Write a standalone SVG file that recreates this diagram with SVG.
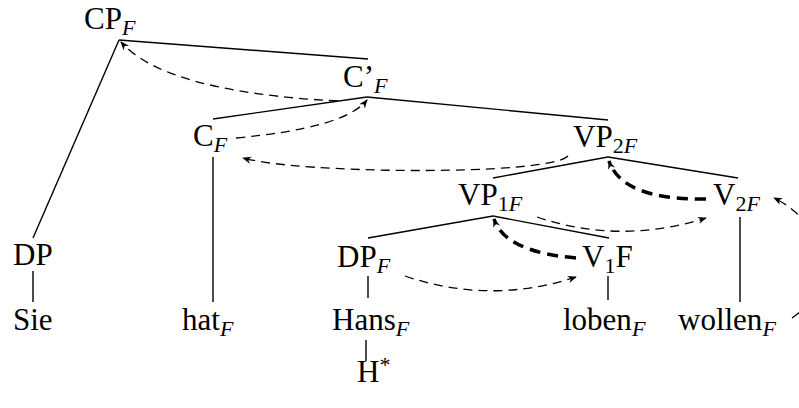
<svg xmlns="http://www.w3.org/2000/svg" width="799" height="408" viewBox="0 0 799 408">
<style>
text{font-family:"Liberation Serif","Times New Roman",serif;font-size:31px;fill:#000}
.s{font-size:22px}
.i{font-style:italic}
.e{stroke:#000;stroke-width:1.4;fill:none}
.d{stroke:#000;stroke-width:1.3;fill:none;stroke-dasharray:9 6}
.t{stroke:#000;stroke-width:3.5;fill:none;stroke-dasharray:11 7}
</style>
<defs>
<marker id="a" viewBox="0 0 10 10" refX="9" refY="5" markerWidth="9" markerHeight="9" orient="auto" markerUnits="userSpaceOnUse"><path d="M0,1 L10,5 L0,9 L3,5 z" fill="#000"/></marker>
</defs>
<g id="connectors">
<line class="e" x1="119" y1="40" x2="368" y2="59"/>
<line class="e" x1="119" y1="40" x2="33" y2="238"/>
<line class="e" x1="33" y1="271" x2="33" y2="302"/>
<line class="e" x1="367" y1="97" x2="213" y2="119"/>
<line class="e" x1="367" y1="97" x2="608" y2="120"/>
<line class="e" x1="213" y1="157" x2="213" y2="302"/>
<line class="e" x1="608" y1="157" x2="493" y2="178"/>
<line class="e" x1="608" y1="157" x2="738" y2="178"/>
<line class="e" x1="493" y1="216" x2="368" y2="238"/>
<line class="e" x1="493" y1="216" x2="609" y2="238"/>
<line class="e" x1="368" y1="276" x2="368" y2="298"/>
<line class="e" x1="608" y1="276" x2="608" y2="300"/>
<line class="e" x1="740" y1="217" x2="740" y2="302"/>
<line class="e" x1="366" y1="340" x2="366" y2="361"/>
<path class="d" d="M338,101 Q165,92 121,42" marker-end="url(#a)"/>
<path class="d" d="M236,138 Q345,128 367,100" marker-end="url(#a)"/>
<path class="d" d="M568,156 C548,176 300,174 243,158" marker-end="url(#a)"/>
<path class="t" d="M706,199 Q622,200 609,161" marker-end="url(#a)"/>
<path class="d" d="M537,217 Q620,245 706,218" marker-end="url(#a)"/>
<path class="t" d="M576,258 Q505,252 494,219" marker-end="url(#a)"/>
<path class="d" d="M405,276 Q490,305 576,277" marker-end="url(#a)"/>
<path class="d" d="M792,318 C835,290 830,225 774,198" marker-end="url(#a)"/>
</g>
<g id="cp"><text x="84" y="29">CP<tspan class="s i" dy="6">F</tspan></text></g>
<g id="cbar"><text x="343" y="87">C’<tspan class="s i" dy="6">F</tspan></text></g>
<g id="c"><text x="193" y="146">C<tspan class="s i" dy="6">F</tspan></text></g>
<g id="vp2"><text x="573" y="147">VP<tspan class="s" dy="6">2</tspan><tspan class="s i">F</tspan></text></g>
<g id="vp1"><text x="458" y="205">VP<tspan class="s" dy="6">1</tspan><tspan class="s i">F</tspan></text></g>
<g id="v2"><text x="713" y="205">V<tspan class="s" dy="6">2</tspan><tspan class="s i">F</tspan></text></g>
<g id="dp"><text x="13" y="265">DP</text></g>
<g id="dpf"><text x="337" y="267">DP<tspan class="s i" dy="6">F</tspan></text></g>
<g id="v1"><text x="582" y="267">V<tspan class="s" dy="6">1</tspan><tspan dy="-6">F</tspan></text></g>
<g id="sie"><text x="13" y="330">Sie</text></g>
<g id="hat"><text x="182" y="330">hat<tspan class="s i" dy="6">F</tspan></text></g>
<g id="hans"><text x="332" y="330">Hans<tspan class="s i" dy="6">F</tspan></text></g>
<g id="loben"><text x="563" y="330">loben<tspan class="s i" dy="6">F</tspan></text></g>
<g id="wollen"><text x="678" y="330">wollen<tspan class="s i" dy="6">F</tspan></text></g>
<g id="hstar"><text x="357" y="382">H<tspan class="s" dy="-10">*</tspan></text></g>
</svg>
